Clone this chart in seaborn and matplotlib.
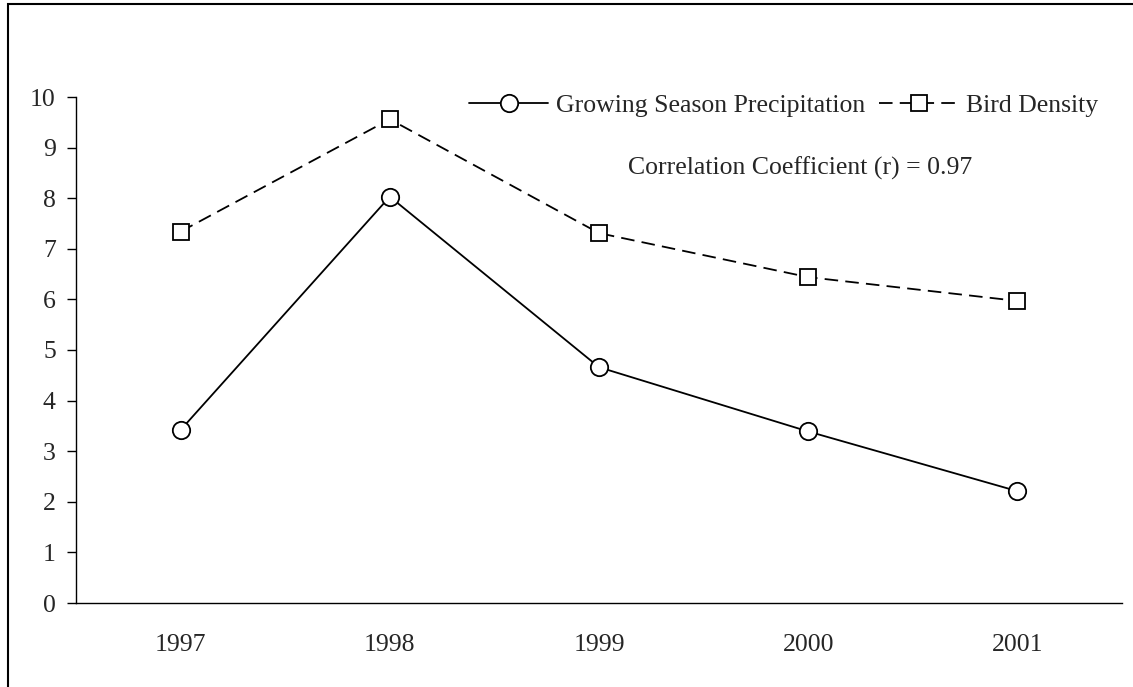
import numpy as np
import pandas as pd
import seaborn as sns
import matplotlib.pyplot as plt
from matplotlib.patches import Rectangle

# --- data ---
years = ['1997', '1998', '1999', '2000', '2001']
precip = [3.42, 8.03, 4.66, 3.39, 2.21]
birds = [7.34, 9.56, 7.31, 6.44, 5.97]

df = pd.DataFrame({'idx': np.arange(len(years)), 'year': years,
                   'precip': precip, 'birds': birds})

sns.set_theme(style='white')
plt.rcParams['font.family'] = ['Liberation Serif', 'DejaVu Serif']
FS = 18.5

fig = plt.figure(figsize=(11.33, 6.87), dpi=100)
ax = fig.add_axes([76/1133, 1-603/687, (1122-76)/1133, (603-97)/687])

sns.lineplot(data=df, x='idx', y='precip', ax=ax, color='black', lw=1.3,
             marker='o', markersize=12.5, markerfacecolor='white',
             markeredgecolor='black', markeredgewidth=1.3,
             label='Growing Season Precipitation')
sns.lineplot(data=df, x='idx', y='birds', ax=ax, color='black', lw=1.3,
             marker='s', markersize=12, markerfacecolor='white',
             markeredgecolor='black', markeredgewidth=1.3,
             label='Bird Density')
ax.lines[1].set_dashes((7.5, 4))

ax.set_xlim(-0.5, len(years) - 0.5)
ax.set_ylim(0, 10)
ax.set_yticks(range(0, 11))
ax.set_xticks(np.arange(-0.5, len(years)), labels=[''] * (len(years) + 1))
ax.set_xticks(np.arange(len(years)), labels=years, minor=True)
ax.tick_params(axis='x', which='minor', length=0, pad=22, labelsize=FS)
ax.tick_params(axis='x', which='major', direction='out', length=6.5, width=1, color='black')
ax.tick_params(axis='y', direction='out', length=6.5, width=1, color='black',
               labelsize=FS, pad=8, left=True)
ax.set_xlabel('')
ax.set_ylabel('')
for s in ['top', 'right']:
    ax.spines[s].set_visible(False)
for s in ['left', 'bottom']:
    ax.spines[s].set_color('black')
    ax.spines[s].set_linewidth(1)

ax.legend(loc='center right', bbox_to_anchor=(1098/1133, 1-106/687),
          bbox_transform=fig.transFigure, ncol=2, frameon=False,
          fontsize=FS, handlelength=3.1, handletextpad=0.28, columnspacing=0.55,
          borderpad=0, borderaxespad=0)

fig.text(800/1133, 1-168/687, 'Correlation Coefficient (r) = 0.97',
         ha='center', va='center', fontsize=FS)

# outer frame
fig.patches.append(Rectangle((8/1133, -0.1), 1.2, 1 - 4/687 + 0.1,
                             transform=fig.transFigure, fill=False,
                             edgecolor='black', lw=1.5))

fig.savefig('out.png', dpi=100)
